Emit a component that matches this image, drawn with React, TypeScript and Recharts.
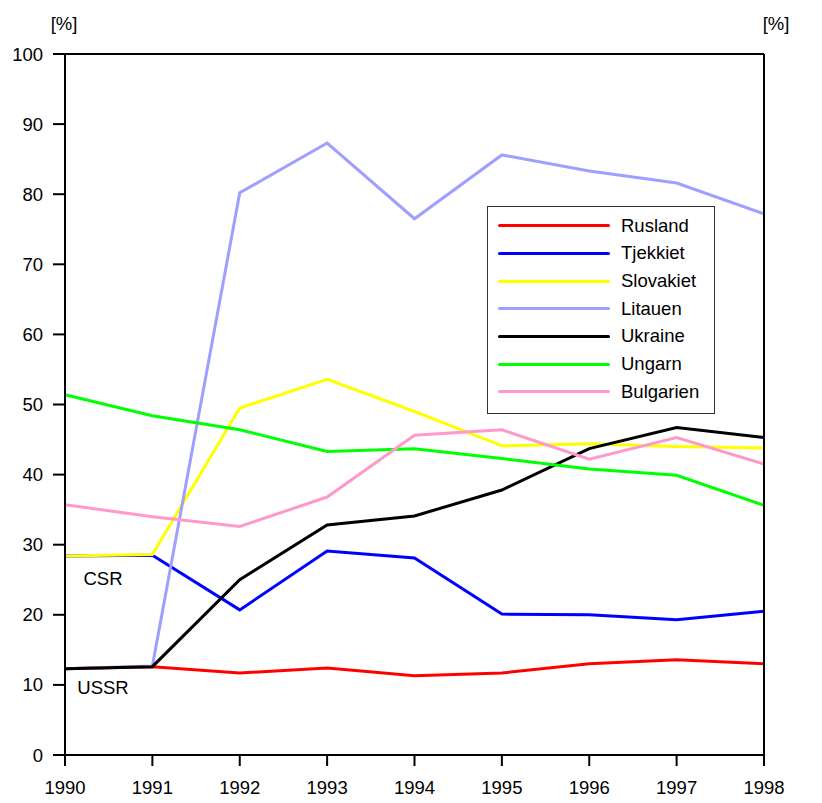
import React from 'react';
import { LineChart, Line, XAxis, YAxis, ReferenceLine, ReferenceDot, Legend } from 'recharts';

const years = [1990, 1991, 1992, 1993, 1994, 1995, 1996, 1997, 1998];
const rusland = [12.3, 12.6, 11.7, 12.4, 11.3, 11.7, 13.0, 13.6, 13.0];
const tjekkiet = [28.4, 28.5, 20.7, 29.1, 28.1, 20.1, 20.0, 19.3, 20.5];
const slovakiet = [28.4, 28.6, 49.5, 53.6, 49.0, 44.1, 44.4, 44.0, 43.8];
const litauen = [12.3, 12.7, 80.2, 87.3, 76.5, 85.6, 83.3, 81.6, 77.2];
const ukraine = [12.3, 12.6, 25.0, 32.8, 34.1, 37.8, 43.7, 46.7, 45.3];
const ungarn = [51.4, 48.4, 46.4, 43.3, 43.7, 42.3, 40.8, 39.9, 35.6];
const bulgarien = [35.7, 34.0, 32.6, 36.8, 45.6, 46.4, 42.2, 45.3, 41.5];
const yTicks = [0, 10, 20, 30, 40, 50, 60, 70, 80, 90, 100];

const SERIES = [
  { key: 'Rusland', values: rusland, color: '#ff0000' },
  { key: 'Tjekkiet', values: tjekkiet, color: '#0000ff' },
  { key: 'Slovakiet', values: slovakiet, color: '#ffff00' },
  { key: 'Litauen', values: litauen, color: '#9f9fff' },
  { key: 'Ukraine', values: ukraine, color: '#000000' },
  { key: 'Ungarn', values: ungarn, color: '#00ff00' },
  { key: 'Bulgarien', values: bulgarien, color: '#ff99cc' },
];

const data = years.map((year, i) => {
  const row: any = { year };
  SERIES.forEach(s => { row[s.key] = s.values[i]; });
  return row;
});

const FONT = '"Liberation Sans", Arial, sans-serif';
const FS = 18.5;
const axisStyle = { stroke: '#000', strokeWidth: 2 };

const LegendBox = () => (
  <div style={{ width: 228, height: 208, border: '1px solid #333', background: '#fff', boxSizing: 'border-box', paddingTop: 5 }}>
    {SERIES.map(s => (
      <div key={s.key} style={{ display: 'flex', alignItems: 'center', height: 27.7 }}>
        <div style={{ marginLeft: 10, width: 112, height: 3, background: s.color, borderRadius: 2 }} />
        <span style={{ marginLeft: 11, fontSize: FS, fontFamily: FONT, color: '#000', lineHeight: 1 }}>{s.key}</span>
      </div>
    ))}
  </div>
);

const pctLabel = (dx: number) => (props: any) => {
  const vb = props.viewBox;
  return (
    <text x={vb.x + dx} y={vb.y - 30.5} textAnchor="middle" dominantBaseline="central" fontSize={FS} fontFamily={FONT} fill="#000">[%]</text>
  );
};

const noteLabel = (text: string, dx: number, dy: number) => (props: any) => {
  const vb = props.viewBox;
  return (
    <text x={vb.x + dx} y={vb.y + dy} textAnchor="middle" dominantBaseline="central" fontSize={FS} fontFamily={FONT} fill="#000">{text}</text>
  );
};

export default function App() {
  return (
    <div style={{ position: 'absolute', left: 0, top: 0, width: 822, height: 803, background: '#fff' }}>
      <LineChart width={822} height={803} data={data} margin={{ top: 54, right: 0, bottom: 0, left: 0 }}>
        <XAxis
          dataKey="year"
          type="number"
          domain={[1990, 1998]}
          ticks={years}
          height={48}
          axisLine={axisStyle}
          tickLine={axisStyle}
          tickSize={11}
          tickMargin={15}
          tick={{ fill: '#000', fontSize: FS, fontFamily: FONT }}
        />
        <YAxis
          yAxisId="left"
          domain={[0, 100]}
          ticks={yTicks}
          width={65}
          axisLine={axisStyle}
          tickLine={axisStyle}
          tickSize={12}
          tickMargin={10}
          tick={{ fill: '#000', fontSize: FS, fontFamily: FONT }}
          label={{ content: pctLabel(64) }}
        />
        <YAxis
          yAxisId="right"
          orientation="right"
          domain={[0, 100]}
          ticks={yTicks}
          width={58}
          axisLine={axisStyle}
          tickLine={axisStyle}
          tickSize={13}
          tickMargin={6}
          tick={{ fill: '#000', fontSize: FS, fontFamily: FONT }}
          label={{ content: pctLabel(12) }}
        />
        <ReferenceLine yAxisId="left" y={100} stroke="#000" strokeWidth={2} />
        {SERIES.map(s => (
          <Line
            key={s.key}
            yAxisId="left"
            type="linear"
            dataKey={s.key}
            stroke={s.color}
            strokeWidth={3}
            dot={false}
            isAnimationActive={false}
          />
        ))}
        <ReferenceDot yAxisId="left" x={1990} y={28.4} r={0} stroke="none" label={{ content: noteLabel('CSR', 38, 23) }} />
        <ReferenceDot yAxisId="left" x={1990} y={12.3} r={0} stroke="none" label={{ content: noteLabel('USSR', 38, 19) }} />
        <Legend
          layout="horizontal"
          verticalAlign="middle"
          align="center"
          content={<LegendBox />}
          wrapperStyle={{ left: 487, top: 206, width: 228, height: 208 }}
        />
      </LineChart>
    </div>
  );
}
